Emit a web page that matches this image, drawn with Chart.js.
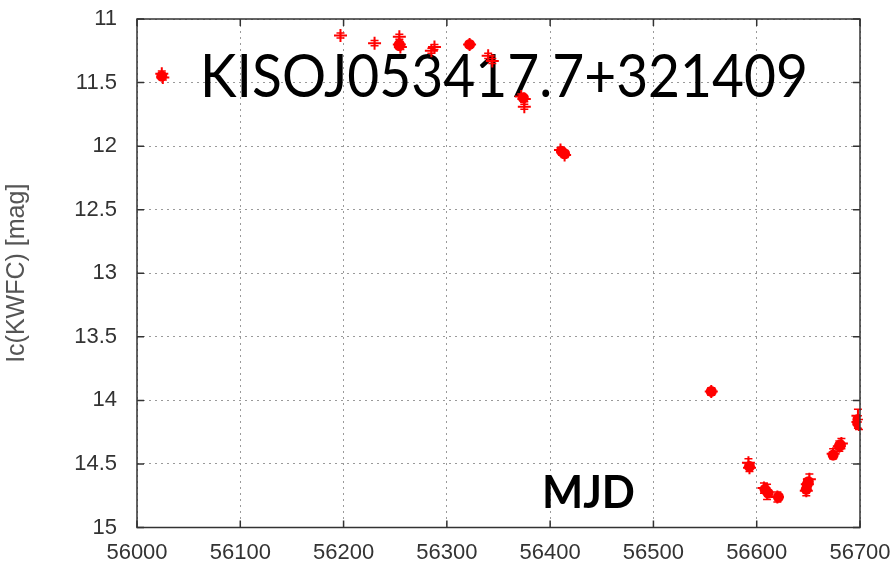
<!DOCTYPE html>
<html>
<head>
<meta charset="utf-8">
<script src="https://cdn.jsdelivr.net/npm/chart.js@4.4.0/dist/chart.umd.min.js"></script>
<style>
  html, body { margin: 0; padding: 0; background: #fff; }
  #wrap { width: 896px; height: 563px; }
</style>
</head>
<body>
<div id="wrap"><canvas id="lightCurve" width="896" height="563"></canvas></div>
<script>
// every exposure, drawn as a "+" with its error bar
const obsMjd = [56024, 56025, 56197, 56230, 56254, 56254, 56255, 56285, 56288, 56322,
  56340, 56344, 56372, 56375, 56375, 56410, 56414, 56556, 56592, 56593,
  56607, 56610, 56620, 56648, 56649, 56651, 56674, 56680, 56682, 56698, 56698, 56699];
const obsMag = [11.43, 11.46, 11.13, 11.19, 11.14, 11.20, 11.22, 11.25, 11.22, 11.20,
  11.29, 11.33, 11.61, 11.63, 11.69, 12.03, 12.07, 13.93, 14.49, 14.53,
  14.69, 14.72, 14.76, 14.71, 14.66, 14.62, 14.42, 14.36, 14.34, 14.12, 14.17, 14.19];
const obsErr = [0.02, 0.02, 0.02, 0.02, 0.02, 0.02, 0.02, 0.02, 0.02, 0.02,
  0.02, 0.02, 0.02, 0.02, 0.02, 0.02, 0.02, 0.03, 0.03, 0.03,
  0.04, 0.06, 0.04, 0.04, 0.04, 0.04, 0.04, 0.04, 0.04, 0.05, 0.05, 0.04];

// nights where many exposures pile up into a solid blob
const stackMjd = [56024, 56254, 56254, 56322, 56374, 56411, 56414, 56556, 56593,
  56608, 56611, 56621, 56648, 56649, 56650, 56674, 56680, 56681, 56698, 56698];
const stackMag = [11.45, 11.20, 11.21, 11.20, 11.62, 12.04, 12.06, 13.93, 14.52,
  14.70, 14.73, 14.76, 14.70, 14.66, 14.64, 14.43, 14.36, 14.35, 14.15, 14.18];

const xTicks = [56000, 56100, 56200, 56300, 56400, 56500, 56600, 56700];
const yTicks = [11, 11.5, 12, 12.5, 13, 13.5, 14, 14.5, 15];

const objectName = "KISOJ053417.7+321409";
const xName = "MJD";
const yName = "Ic(KWFC) [mag]";

const RED = "#ff0000";
const FRAME = "#333333";

const overlayText = {
  id: "overlayText",
  beforeDatasetsDraw(chart) {
    const ctx = chart.ctx;
    ctx.save();
    ctx.fillStyle = "#000";
    ctx.textBaseline = "alphabetic";
    ctx.font = "60px Lato";
    let w = ctx.measureText(objectName).width;
    ctx.translate(200, 97);
    ctx.scale(608 / w, 1);
    ctx.fillText(objectName, 0, 0);
    ctx.restore();

    ctx.save();
    ctx.fillStyle = "#000";
    ctx.font = "bold 46px Lato";
    w = ctx.measureText(xName).width;
    ctx.translate(542, 508);
    ctx.scale(93 / w, 1);
    ctx.fillText(xName, 0, 0);
    ctx.restore();
  },
};

// gnuplot style frame: solid box with short ticks pointing inwards on all four sides
const frameAndTicks = {
  id: "frameAndTicks",
  afterDraw(chart) {
    const { ctx, chartArea: a, scales } = chart;
    ctx.save();
    ctx.strokeStyle = FRAME;
    ctx.lineWidth = 1.5;
    ctx.strokeRect(a.left, a.top, a.right - a.left, a.bottom - a.top);
    ctx.beginPath();
    xTicks.forEach((v) => {
      const px = scales.x.getPixelForValue(v);
      ctx.moveTo(px, a.bottom); ctx.lineTo(px, a.bottom - 7);
      ctx.moveTo(px, a.top); ctx.lineTo(px, a.top + 7);
    });
    yTicks.forEach((v) => {
      const py = scales.y.getPixelForValue(v);
      ctx.moveTo(a.left, py); ctx.lineTo(a.left + 7, py);
      ctx.moveTo(a.right, py); ctx.lineTo(a.right - 7, py);
    });
    ctx.stroke();
    ctx.restore();
  },
};

const errorBars = {
  id: "errorBars",
  afterDatasetsDraw(chart) {
    const { ctx, scales } = chart;
    ctx.save();
    ctx.strokeStyle = RED;
    ctx.lineWidth = 1.5;
    ctx.beginPath();
    obsMjd.forEach((m, i) => {
      const px = scales.x.getPixelForValue(m);
      const top = scales.y.getPixelForValue(obsMag[i] - obsErr[i]);
      const bot = scales.y.getPixelForValue(obsMag[i] + obsErr[i]);
      ctx.moveTo(px, top); ctx.lineTo(px, bot);
      ctx.moveTo(px - 4, top); ctx.lineTo(px + 4, top);
      ctx.moveTo(px - 4, bot); ctx.lineTo(px + 4, bot);
    });
    ctx.stroke();
    ctx.restore();
  },
};

new Chart(document.getElementById("lightCurve"), {
  type: "scatter",
  data: {
    datasets: [
      {
        label: "stacked",
        data: stackMjd.map((m, i) => ({ x: m, y: stackMag[i] })),
        pointStyle: "circle",
        pointRadius: 5.5,
        backgroundColor: RED,
        borderColor: RED,
        borderWidth: 0,
      },
      {
        label: "exposures",
        data: obsMjd.map((m, i) => ({ x: m, y: obsMag[i] })),
        pointStyle: "cross",
        pointRadius: 6.5,
        borderColor: RED,
        backgroundColor: RED,
        borderWidth: 2,
      },
    ],
  },
  options: {
    responsive: false,
    animation: false,
    devicePixelRatio: 1,
    layout: { padding: { left: 0, right: 36, top: 19, bottom: 0 } },
    plugins: { legend: { display: false }, tooltip: { enabled: false } },
    scales: {
      x: {
        type: "linear",
        min: 56000,
        max: 56700,
        afterBuildTicks(scale) { scale.ticks = xTicks.map((v) => ({ value: v })); },
        afterFit(scale) { scale.height = 35.5; },
        ticks: {
          padding: 3,
          color: "#333",
          font: { family: "Liberation Sans", size: 22 },
          maxRotation: 0,
          callback: (v) => String(v),
        },
        grid: { color: "#9a9a9a", lineWidth: 1, tickLength: 9, tickColor: "rgba(0,0,0,0)" },
        border: { display: false, dash: [2, 4] },
      },
      y: {
        type: "linear",
        reverse: true,
        min: 11,
        max: 15,
        afterBuildTicks(scale) { scale.ticks = yTicks.map((v) => ({ value: v })); },
        afterFit(scale) { scale.width = 137; },
        ticks: {
          padding: 3,
          color: "#333",
          font: { family: "Liberation Sans", size: 22 },
          callback: (v) => String(v),
        },
        grid: { color: "#9a9a9a", lineWidth: 1, tickLength: 17, tickColor: "rgba(0,0,0,0)" },
        border: { display: false, dash: [2, 4] },
        title: {
          display: true,
          text: yName,
          color: "#555",
          font: { family: "Liberation Sans", size: 25 },
          padding: { top: 2, bottom: 0 },
        },
      },
    },
  },
  plugins: [overlayText, errorBars, frameAndTicks],
});
</script>
</body>
</html>
